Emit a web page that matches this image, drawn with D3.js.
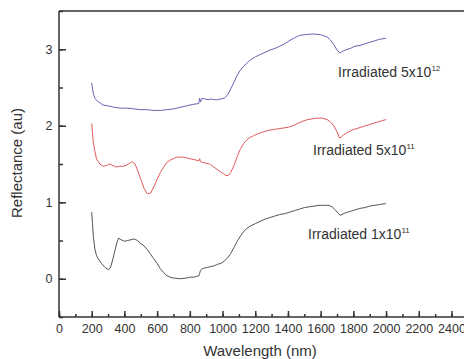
<!DOCTYPE html>
<html>
<head>
<meta charset="utf-8">
<script src="https://cdn.jsdelivr.net/npm/d3@7"></script>
<style>
  body { margin: 0; background: #fff; }
  svg { display: block; font-family: "Liberation Sans", Arial, sans-serif; }
</style>
</head>
<body>
<svg width="464" height="359"></svg>
<script>
// data: [wavelength (nm), reflectance (au)]
const series1e11 = [
  [200, 0.87], [205, 0.72], [210, 0.55], [220, 0.38], [230, 0.3], [240, 0.26], [260, 0.2], [280, 0.15],
  [300, 0.12], [310, 0.13], [320, 0.18], [340, 0.35], [355, 0.48], [365, 0.53], [380, 0.51], [400, 0.49],
  [420, 0.5], [440, 0.51], [460, 0.52], [480, 0.5], [500, 0.46], [520, 0.43], [540, 0.38], [560, 0.32],
  [580, 0.26], [600, 0.2], [620, 0.13], [640, 0.08], [660, 0.04], [680, 0.02], [700, 0.01], [740, 0.0],
  [780, 0.01], [800, 0.02], [820, 0.02], [840, 0.03], [855, 0.04], [860, 0.07], [865, 0.11], [875, 0.13],
  [890, 0.14], [910, 0.15], [930, 0.16], [950, 0.17], [970, 0.19], [990, 0.2], [1010, 0.23], [1030, 0.27],
  [1050, 0.33], [1070, 0.41], [1090, 0.49], [1110, 0.56], [1130, 0.62], [1150, 0.66], [1170, 0.69],
  [1200, 0.72], [1230, 0.75], [1260, 0.78], [1290, 0.8], [1320, 0.82], [1350, 0.84], [1380, 0.85],
  [1410, 0.87], [1440, 0.89], [1470, 0.91], [1500, 0.93], [1530, 0.94], [1560, 0.95], [1590, 0.96],
  [1620, 0.96], [1650, 0.96], [1670, 0.94], [1690, 0.9], [1705, 0.86], [1718, 0.83], [1730, 0.84],
  [1750, 0.86], [1780, 0.88], [1810, 0.9], [1840, 0.92], [1870, 0.93], [1900, 0.95], [1930, 0.96],
  [1960, 0.97], [1990, 0.98], [2000, 0.98]
];
const series5e11 = [
  [200, 2.03], [205, 1.9], [210, 1.78], [220, 1.66], [230, 1.56], [240, 1.53], [250, 1.5], [270, 1.47],
  [290, 1.48], [310, 1.5], [330, 1.48], [350, 1.46], [370, 1.47], [390, 1.47], [410, 1.48], [430, 1.51],
  [450, 1.53], [465, 1.5], [480, 1.42], [500, 1.3], [520, 1.18], [540, 1.11], [560, 1.12], [580, 1.2],
  [600, 1.3], [620, 1.39], [640, 1.46], [660, 1.52], [680, 1.55], [700, 1.57], [720, 1.59], [740, 1.59],
  [760, 1.59], [780, 1.58], [800, 1.57], [820, 1.56], [840, 1.55], [855, 1.54], [860, 1.57], [865, 1.53],
  [880, 1.52], [900, 1.51], [920, 1.5], [940, 1.47], [960, 1.44], [980, 1.41], [1000, 1.38], [1020, 1.35],
  [1035, 1.35], [1050, 1.39], [1070, 1.48], [1090, 1.6], [1110, 1.7], [1130, 1.77], [1150, 1.82],
  [1170, 1.85], [1190, 1.87], [1220, 1.9], [1250, 1.92], [1280, 1.94], [1310, 1.95], [1340, 1.96],
  [1370, 1.97], [1400, 1.98], [1430, 2.0], [1460, 2.03], [1490, 2.06], [1520, 2.08], [1550, 2.09],
  [1580, 2.1], [1610, 2.1], [1640, 2.08], [1660, 2.05], [1680, 2.0], [1700, 1.92], [1715, 1.84],
  [1725, 1.85], [1740, 1.88], [1770, 1.92], [1800, 1.95], [1830, 1.97], [1860, 1.99], [1890, 2.01],
  [1920, 2.03], [1950, 2.05], [1980, 2.07], [2000, 2.08]
];
const series5e12 = [
  [200, 2.56], [205, 2.48], [210, 2.42], [220, 2.36], [230, 2.33], [250, 2.3], [270, 2.27], [300, 2.26],
  [340, 2.24], [380, 2.23], [420, 2.23], [460, 2.22], [500, 2.21], [540, 2.21], [580, 2.2], [620, 2.2],
  [660, 2.21], [700, 2.22], [740, 2.24], [780, 2.26], [820, 2.28], [855, 2.29], [860, 2.36], [865, 2.31],
  [875, 2.36], [890, 2.35], [910, 2.34], [930, 2.35], [950, 2.34], [970, 2.34], [990, 2.35], [1010, 2.36],
  [1030, 2.4], [1050, 2.48], [1070, 2.57], [1090, 2.66], [1110, 2.73], [1130, 2.78], [1150, 2.82],
  [1170, 2.86], [1200, 2.9], [1230, 2.93], [1260, 2.96], [1290, 2.99], [1320, 3.01], [1350, 3.04],
  [1380, 3.07], [1400, 3.1], [1440, 3.15], [1470, 3.18], [1500, 3.19], [1550, 3.2], [1600, 3.19],
  [1640, 3.16], [1660, 3.12], [1680, 3.06], [1700, 2.99], [1718, 2.95], [1730, 2.97], [1750, 2.99],
  [1780, 3.01], [1810, 3.04], [1840, 3.05], [1870, 3.07], [1900, 3.09], [1930, 3.11], [1960, 3.13],
  [1990, 3.14], [2000, 3.14]
];
const seriesColors = ["#555555", "#e05a5a", "#6464b4"];
const labelText = ["Irradiated 1x10", "Irradiated 5x10", "Irradiated 5x10"];
const labelExp = ["11", "11", "12"];
const xTicks = [0, 200, 400, 600, 800, 1000, 1200, 1400, 1600, 1800, 2000, 2200, 2400];
const yTicks = [0, 1, 2, 3];

const svg = d3.select("svg");
const plotLeft = 59, plotTop = 11, plotBottom = 317;

const x = d3.scaleLinear().domain([0, 2400]).range([plotLeft, 451.5]);
const y = d3.scaleLinear().domain([-0.5, 3.5]).range([plotBottom, plotTop]);

// top frame line
svg.append("line")
  .attr("x1", plotLeft).attr("x2", 464)
  .attr("y1", plotTop).attr("y2", plotTop)
  .attr("stroke", "#333").attr("stroke-width", 1.5);

// x axis, ticks pointing inward
const xAxis = svg.append("g").attr("transform", `translate(0,${plotBottom})`);
xAxis.call(d3.axisBottom(x).tickValues(d3.range(0, 2401, 100)).tickSize(-3).tickFormat(""))
  .call(g => g.select(".domain").remove());
const xMajor = xAxis.append("g");
xMajor.call(d3.axisBottom(x).tickValues(xTicks).tickSize(-6).tickPadding(7).tickFormat(d3.format("d")));
xMajor.select(".domain").attr("d", `M${plotLeft},0H464`);

// y axis, ticks pointing inward
const yAxis = svg.append("g").attr("transform", `translate(${plotLeft},0)`);
yAxis.call(d3.axisLeft(y).tickValues(d3.range(-0.5, 3.51, 0.5)).tickSize(-4).tickFormat(""))
  .call(g => g.select(".domain").remove());
const yMajor = yAxis.append("g");
yMajor.call(d3.axisLeft(y).tickValues(yTicks).tickSize(-7).tickPadding(6.5).tickFormat(d3.format("d")));
yMajor.select(".domain").attr("d", `M0,${plotTop}V${plotBottom}`);

svg.selectAll(".domain, .tick line").attr("stroke", "#333").attr("stroke-width", 1.5);
svg.selectAll(".tick text").attr("fill", "#333").attr("font-size", 12.5)
  .attr("font-family", "Liberation Sans, Arial, sans-serif");

// curves
const line = d3.line().x(d => x(d[0])).y(d => y(d[1]));
[series1e11, series5e11, series5e12].forEach((s, i) => {
  svg.append("path")
    .datum(s)
    .attr("d", line)
    .attr("fill", "none")
    .attr("stroke", seriesColors[i])
    .attr("stroke-width", 1);
});

// curve labels
const labelPos = [[308, 239], [313, 155], [338, 77]];
labelText.forEach((t, i) => {
  const txt = svg.append("text")
    .attr("x", labelPos[i][0]).attr("y", labelPos[i][1])
    .attr("font-size", 14).attr("fill", "#333");
  txt.append("tspan").text(t);
  txt.append("tspan").attr("dy", -6).attr("font-size", 8).text(labelExp[i]);
});

// axis titles
svg.append("text")
  .attr("x", 260).attr("y", 356)
  .attr("text-anchor", "middle")
  .attr("font-size", 15).attr("fill", "#333")
  .text("Wavelength (nm)");
svg.append("text")
  .attr("transform", "translate(22,163) rotate(-90)")
  .attr("text-anchor", "middle")
  .attr("font-size", 15).attr("fill", "#333")
  .text("Reflectance (au)");
</script>
</body>
</html>
